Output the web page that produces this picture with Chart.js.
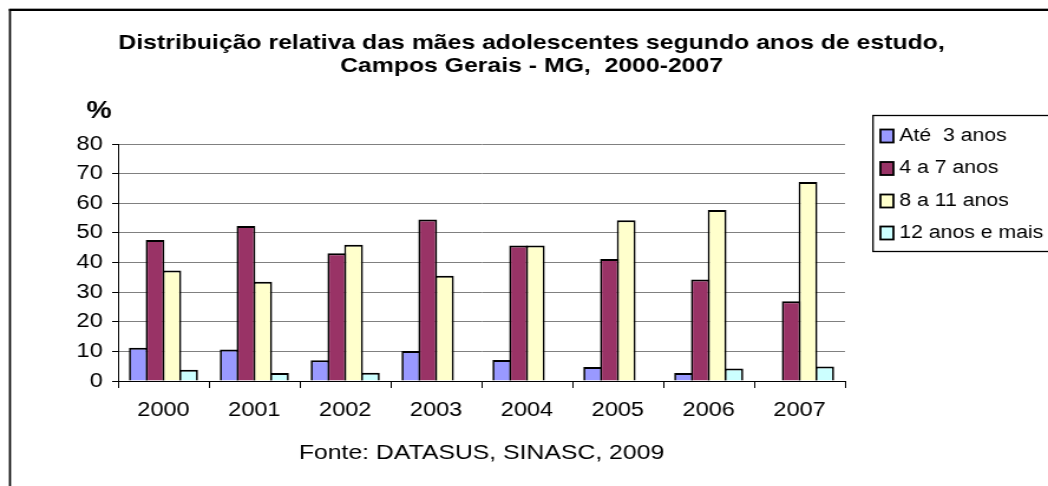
<!DOCTYPE html>
<html><head><meta charset="utf-8">
<script src="https://cdn.jsdelivr.net/npm/chart.js@4/dist/chart.umd.min.js"></script>
<style>
html,body{margin:0;padding:0;background:#fff;overflow:hidden;width:1048px;height:486px;}
#wrap{position:absolute;left:0;top:0;width:888px;height:486px;transform:scaleX(1.18018);transform-origin:0 0;}
canvas{display:block;}
</style></head><body>
<div id="wrap"><canvas id="c" width="888" height="486" style="width:888px;height:486px"></canvas></div>
<script>
const titleLines = ['Distribuição relativa das mães adolescentes segundo anos de estudo,', 'Campos Gerais - MG,  2000-2007'];
const yAxisTitle = '%';
const sourceNote = 'Fonte: DATASUS, SINASC, 2009';
const years = ['2000','2001','2002','2003','2004','2005','2006','2007'];
const seriesNames = ['Até  3 anos','4 a 7 anos','8 a 11 anos','12 anos e mais'];
const ate3 = [11.2, 10.6, 7.0, 10.1, 7.1, 4.7, 2.7, 0];
const de4a7 = [47.6, 52.3, 43.1, 54.5, 45.7, 41.2, 34.3, 26.9];
const de8a11 = [37.3, 33.5, 46.0, 35.5, 45.7, 54.3, 57.7, 67.2];
const mais12 = [3.8, 2.7, 2.8, 0, 0, 0, 4.2, 4.9];
const colors = ['#9999FF','#993366','#FFFFCC','#CCFFFF'];

const FONT = "'Liberation Sans', Arial, sans-serif";

const deco = {
  id: 'deco',
  beforeDraw(chart) {
    const ctx = chart.ctx;
    ctx.save();
    ctx.fillStyle = '#fff';
    ctx.fillRect(0, 0, chart.width, chart.height);
    ctx.fillStyle = '#a8a8a8';
    ctx.fillRect(7.6, 8, chart.width, 1);
    ctx.fillStyle = '#000';
    ctx.fillRect(7.6, 9, chart.width, 2);
    ctx.fillRect(7.6, 9, 1.7, chart.height);
    ctx.restore();
  },
  afterDraw(chart) {
    const ctx = chart.ctx;
    const ca = chart.chartArea;
    ctx.save();
    ctx.fillStyle = '#000';
    ctx.font = 'bold 21px ' + FONT;
    ctx.textAlign = 'center';
    ctx.textBaseline = 'alphabetic';
    ctx.fillText(titleLines[0], 450.4, 48.5);
    ctx.fillText(titleLines[1], 450.4, 71.5);
    ctx.font = 'bold 24px ' + FONT;
    ctx.fillText(yAxisTitle, 84, 118);
    ctx.font = '21px ' + FONT;
    ctx.fillText(sourceNote, (ca.left + ca.right) / 2, 458.5);
    ctx.strokeStyle = '#000';
    ctx.lineWidth = 1.3;
    ctx.strokeRect(739.7, 115.5, 200, 136);
    ctx.font = '18px ' + FONT;
    ctx.textAlign = 'left';
    const baselines = [140.5, 173, 205.5, 237.5];
    chart.data.datasets.forEach((ds, i) => {
      const b = baselines[i];
      ctx.fillStyle = ds.backgroundColor;
      ctx.fillRect(746, b - 11, 11, 13);
      ctx.lineWidth = 1.8;
      ctx.strokeStyle = '#000';
      ctx.strokeRect(746, b - 11, 11, 13);
      ctx.fillStyle = '#000';
      ctx.fillText(ds.label, 762, b);
    });
    ctx.restore();
  }
};

const datasets = [ate3, de4a7, de8a11, mais12].map((d, i) => ({
  label: seriesNames[i],
  data: d,
  backgroundColor: colors[i],
  borderColor: '#000',
  borderWidth: {top: 2, left: 1.7, right: 1.7, bottom: 0},
  categoryPercentage: 0.738,
  barPercentage: 1.12,
  inflateAmount: 0
}));

new Chart(document.getElementById('c'), {
  type: 'bar',
  data: { labels: years, datasets },
  options: {
    responsive: false,
    animation: false,
    devicePixelRatio: 1,
    layout: { padding: { left: 0, right: 172, top: 144, bottom: 45 } },
    plugins: { legend: { display: false }, title: { display: false }, tooltip: { enabled: false } },
    scales: {
      x: {
        offset: true,
        grid: { display: true, drawOnChartArea: false, drawTicks: true, tickLength: 7, color: '#000', offset: true },
        border: { display: true, color: '#000', width: 1 },
        ticks: { color: '#000', font: { family: FONT, size: 20 }, padding: 10, autoSkip: false, maxRotation: 0 },
        afterFit(s) { s.height = 60; }
      },
      y: {
        min: 0, max: 80,
        ticks: { stepSize: 10, color: '#000', font: { family: FONT, size: 20 }, padding: 8 },
        grid: { color: c => (c.tick && c.tick.value === 0) ? '#000' : '#808080', tickColor: '#000', tickLength: 5, lineWidth: 1 },
        border: { display: true, color: '#000', width: 1 },
        afterFit(s) { s.width = 100; }
      }
    }
  },
  plugins: [deco]
});
</script>
</body></html>
